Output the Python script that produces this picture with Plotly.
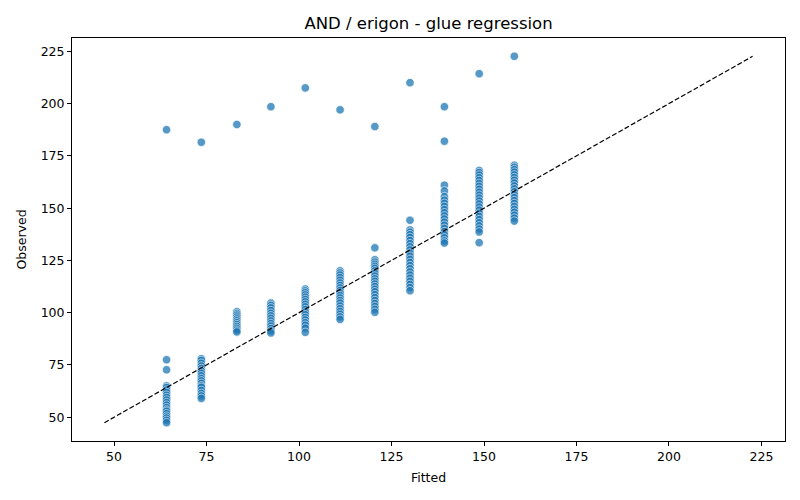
import plotly.graph_objects as go

fitted_levels = [64.2, 73.6, 83.2, 92.4, 101.7, 111.1, 120.5, 130.0, 139.3, 148.7, 158.2]

obs_g1 = [187.5, 77.5, 72.7, 65.0, 64.2, 63.0, 61.8, 60.5, 59.4, 58.2, 57.0, 55.8, 54.6, 53.5, 52.8, 51.7, 50.5, 49.6, 48.5, 47.4]
obs_g2 = [181.5, 78.0, 77.2, 75.8, 74.5, 73.3, 72.1, 71.0, 69.8, 68.5, 67.4, 66.2, 65.0, 64.3, 62.8, 61.4, 60.2, 59.0]
obs_g3 = [190.0, 100.5, 99.6, 98.8, 97.9, 97.0, 96.1, 95.2, 94.3, 93.4, 92.5, 91.6, 90.8]
obs_g4 = [198.5, 104.6, 103.5, 102.3, 101.0, 99.7, 98.5, 97.3, 96.0, 94.8, 93.6, 92.4, 91.2, 90.3]
obs_g5 = [207.5, 111.3, 110.4, 109.5, 108.5, 107.4, 106.3, 105.2, 104.0, 102.8, 101.5, 100.2, 99.0, 97.7, 96.5, 95.2, 94.0, 92.6, 90.6]
obs_g6 = [197.0, 120.0, 119.0, 118.0, 116.8, 115.5, 114.2, 113.0, 111.8, 110.6, 109.4, 108.2, 107.0, 105.8, 104.6, 103.2, 101.9, 100.6, 99.3, 98.0, 96.8]
obs_g7 = [189.0, 131.0, 125.3, 124.2, 123.2, 122.2, 121.2, 120.0, 118.8, 117.5, 116.2, 115.0, 113.7, 112.5, 111.2, 110.0, 108.6, 107.2, 105.8, 104.4, 103.0, 101.6, 100.2]
obs_g8 = [210.0, 144.2, 139.6, 138.5, 137.3, 136.0, 134.5, 133.0, 131.5, 130.0, 128.5, 127.0, 125.5, 124.0, 122.5, 121.0, 119.5, 118.0, 116.5, 115.0, 113.5, 112.0, 110.5]
obs_g9 = [198.5, 182.0, 161.0, 158.2, 155.5, 153.8, 152.3, 150.8, 149.3, 147.8, 146.3, 144.8, 143.3, 141.8, 140.3, 138.8, 137.3, 135.8, 134.3, 133.3]
obs_g10 = [214.3, 168.0, 167.0, 165.8, 164.5, 163.2, 161.8, 160.4, 159.0, 157.6, 156.2, 154.8, 153.4, 152.0, 150.5, 149.0, 147.5, 146.0, 144.5, 143.0, 141.5, 140.0, 138.6, 133.5]
obs_g11 = [222.6, 170.5, 169.5, 168.4, 167.2, 165.9, 164.6, 163.3, 162.0, 160.6, 159.2, 157.8, 156.4, 155.0, 153.6, 152.2, 150.8, 149.4, 148.0, 146.6, 145.2, 143.8]

tick_vals = [50, 75, 100, 125, 150, 175, 200, 225]

groups = [obs_g1, obs_g2, obs_g3, obs_g4, obs_g5, obs_g6, obs_g7, obs_g8, obs_g9, obs_g10, obs_g11]
xs, ys = [], []
for f, g in zip(fitted_levels, groups):
    xs += [f] * len(g)
    ys += g

lo = min(min(xs), min(ys))
hi = max(max(xs), max(ys))
pad = 0.05 * (hi - lo)
rng = [lo - pad, hi + pad]

fig = go.Figure()
fig.add_trace(go.Scatter(
    x=xs, y=ys, mode="markers",
    marker=dict(color="#1f77b4", size=8.5, opacity=0.75, line=dict(color="white", width=0.75)),
    showlegend=False, hoverinfo="skip"))
fig.add_trace(go.Scatter(
    x=[lo, hi], y=[lo, hi], mode="lines",
    line=dict(color="black", width=1.2, dash="5px,2.2px"),
    showlegend=False, hoverinfo="skip"))

axis_common = dict(
    showgrid=False, zeroline=False, showline=True, mirror=True, automargin=False,
    linecolor="black", linewidth=1, ticks="outside", ticklen=4, tickwidth=1,
    tickcolor="black", tickvals=tick_vals, tickfont=dict(size=12.5, color="black"),
    range=rng)

fig.update_layout(
    width=800, height=500,
    paper_bgcolor="white", plot_bgcolor="white",
    font=dict(family="DejaVu Sans", color="black"),
    margin=dict(l=72, r=15, t=38, b=59, pad=0),
    title=dict(text="AND / erigon - glue regression", x=(72 + 785) / 2 / 800, xanchor="center",
               y=1 - 23 / 500, yanchor="middle", font=dict(size=16.5, color="black")),
    xaxis=dict(title=dict(text="Fitted", font=dict(size=12.5), standoff=10), **axis_common),
    yaxis=dict(title=dict(text="Observed", font=dict(size=12.5), standoff=11), **axis_common),
)

fig.write_html("out.html", config={"displayModeBar": False},
               post_script="document.body.style.margin='0';document.body.style.overflow='hidden';")
